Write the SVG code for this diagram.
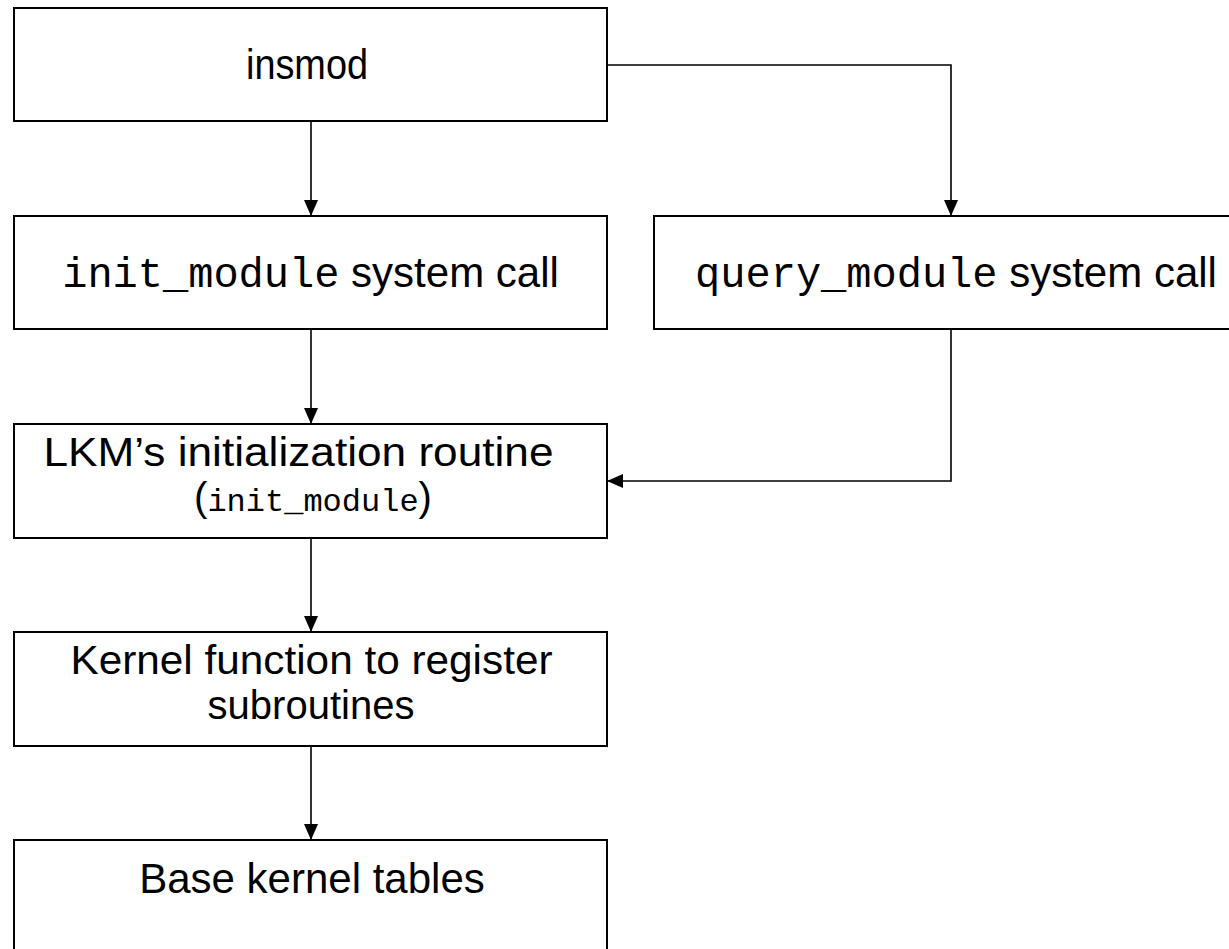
<svg xmlns="http://www.w3.org/2000/svg" width="1229" height="949" viewBox="0 0 1229 949">
<style>
.box{fill:#fff;stroke:#000;stroke-width:2}
.t{font-family:"Liberation Sans",Arial,sans-serif;font-size:42px;fill:#000;text-anchor:middle}
.t2{font-size:40px}
.m{font-family:"Liberation Mono","Courier New",monospace}
.c{fill:none;stroke:#000;stroke-width:1.6}
</style>
<defs>
<marker id="ah" markerUnits="userSpaceOnUse" markerWidth="16" markerHeight="14" refX="16" refY="7" orient="auto" viewBox="0 0 16 14">
<path d="M0,0 L16,7 L0,14 z" fill="#000"/>
</marker>
</defs>
<rect width="1229" height="949" fill="#fff"/>
<g id="connectors">
<path class="c" d="M311,122 V216" marker-end="url(#ah)"/>
<path class="c" d="M607,65 H951 V216" marker-end="url(#ah)"/>
<path class="c" d="M311,330 V424" marker-end="url(#ah)"/>
<path class="c" d="M951,330 V481 H607" marker-end="url(#ah)"/>
<path class="c" d="M311,539 V632" marker-end="url(#ah)"/>
<path class="c" d="M311,747 V840" marker-end="url(#ah)"/>
</g>
<g id="insmod">
<rect class="box" x="14" y="8" width="593" height="113"/>
<text class="t" x="307" y="79" textLength="122" lengthAdjust="spacingAndGlyphs">insmod</text>
</g>
<g id="init_module">
<rect class="box" x="14" y="216" width="593" height="113"/>
<text class="t" x="310.5" y="287"><tspan class="m">init_module</tspan> system call</text>
</g>
<g id="query_module">
<rect class="box" x="654" y="216" width="604" height="113"/>
<text class="t" x="956" y="287"><tspan class="m">query_module</tspan> system call</text>
</g>
<g id="lkm_init">
<rect class="box" x="14" y="424" width="593" height="114"/>
<text class="t t2" x="298.5" y="466" textLength="510" lengthAdjust="spacingAndGlyphs">LKM’s initialization routine</text>
<text class="t t2" x="313" y="511">(<tspan class="m" font-size="32">init_module</tspan>)</text>
</g>
<g id="kernel_function">
<rect class="box" x="14" y="632" width="593" height="114"/>
<text class="t t2" x="311.5" y="674" textLength="482" lengthAdjust="spacingAndGlyphs">Kernel function to register</text>
<text class="t t2" x="311" y="719">subroutines</text>
</g>
<g id="base_tables">
<rect class="box" x="14" y="840" width="593" height="120"/>
<text class="t" x="312" y="893">Base kernel tables</text>
</g>
</svg>
